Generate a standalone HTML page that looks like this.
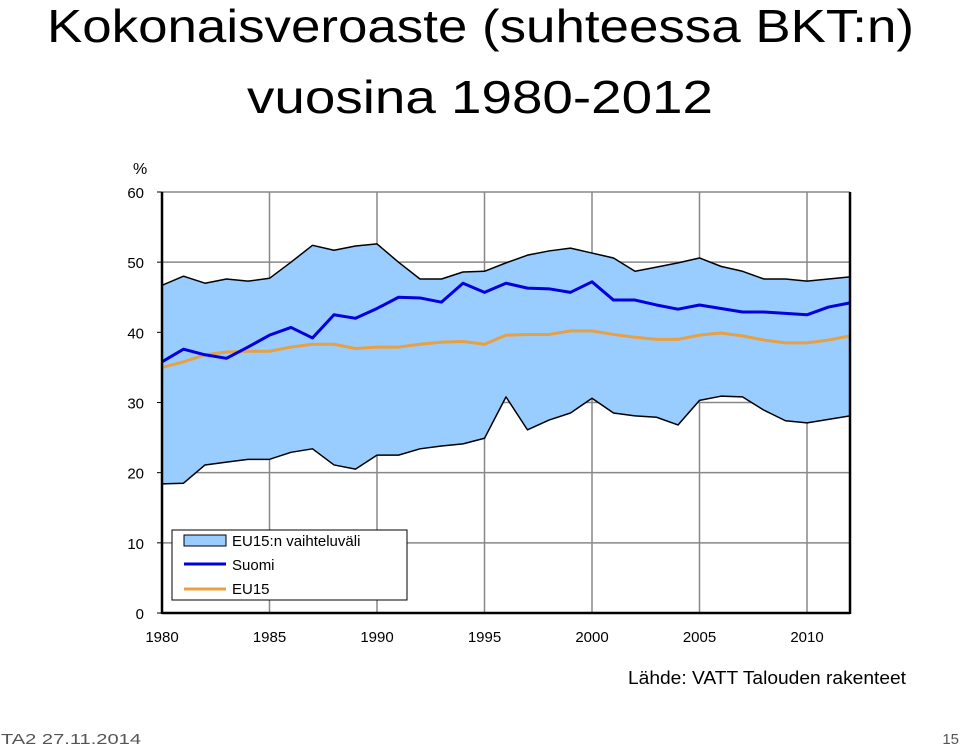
<!DOCTYPE html>
<html><head><meta charset="utf-8"><style>
html,body{margin:0;padding:0;background:#fff;}
svg{display:block;}
text{font-family:"Liberation Sans",sans-serif;}
</style></head><body>
<svg id="chart" width="960" height="745" viewBox="0 0 960 745" xmlns="http://www.w3.org/2000/svg">
<text x="47" y="42" font-size="46" textLength="867" lengthAdjust="spacingAndGlyphs" fill="#000">Kokonaisveroaste (suhteessa BKT:n)</text>
<text x="247" y="113" font-size="46" textLength="466" lengthAdjust="spacingAndGlyphs" fill="#000">vuosina 1980-2012</text>
<text x="133" y="174" font-size="16" fill="#000">%</text>
<g id="grid"></g>
<g id="series"></g>
<g id="axes"></g>
<g>
<rect x="172" y="530" width="235" height="70" fill="#fff" stroke="#000" stroke-width="1"/>
<rect x="184" y="535" width="42" height="11" fill="#99ccff" stroke="#000" stroke-width="1"/>
<text x="232" y="546" font-size="15" fill="#000">EU15:n vaihteluväli</text>
<line x1="184" y1="564" x2="226" y2="564" stroke="#0000dd" stroke-width="3"/>
<text x="232" y="570" font-size="15" fill="#000">Suomi</text>
<line x1="184" y1="589" x2="226" y2="589" stroke="#e8a040" stroke-width="3"/>
<text x="232" y="594" font-size="15" fill="#000">EU15</text>
</g>
<text x="628" y="684" font-size="18" textLength="278" lengthAdjust="spacingAndGlyphs" fill="#000">Lähde: VATT Talouden rakenteet</text>
<text x="1" y="744" font-size="15" textLength="140" lengthAdjust="spacingAndGlyphs" fill="#555">TA2 27.11.2014</text>
<text x="959" y="744" font-size="15" text-anchor="end" fill="#555">15</text>
</svg>
<script>
const years = [1980,1981,1982,1983,1984,1985,1986,1987,1988,1989,1990,1991,1992,1993,1994,1995,1996,1997,1998,1999,2000,2001,2002,2003,2004,2005,2006,2007,2008,2009,2010,2011,2012];
const eu15Max = [46.7,48.0,47.0,47.6,47.3,47.7,50.0,52.4,51.7,52.3,52.6,50.0,47.6,47.6,48.6,48.7,49.9,51.0,51.6,52.0,51.3,50.6,48.7,49.3,49.9,50.6,49.4,48.7,47.6,47.6,47.3,47.6,47.9];
const eu15Min = [18.4,18.5,21.1,21.5,21.9,21.9,22.9,23.4,21.1,20.5,22.5,22.5,23.4,23.8,24.1,24.9,30.8,26.1,27.5,28.5,30.6,28.5,28.1,27.9,26.8,30.3,30.9,30.8,28.9,27.4,27.1,27.6,28.1];
const suomi = [35.8,37.6,36.8,36.3,37.9,39.6,40.7,39.2,42.5,42.0,43.4,45.0,44.9,44.3,47.0,45.7,47.0,46.3,46.2,45.7,47.2,44.6,44.6,43.9,43.3,43.9,43.4,42.9,42.9,42.7,42.5,43.6,44.2];
const eu15 = [35.0,35.8,36.8,37.2,37.3,37.3,37.9,38.3,38.3,37.7,37.9,37.9,38.3,38.6,38.7,38.3,39.6,39.7,39.7,40.2,40.2,39.7,39.3,39.0,39.0,39.6,39.9,39.5,38.9,38.5,38.5,38.9,39.5];
const yTicks = [0,10,20,30,40,50,60];
const xTicks = [1980,1985,1990,1995,2000,2005,2010];

const NS = "http://www.w3.org/2000/svg";
const X0=162, X1=850, Y0=613, Y1=192;
const xs = y => X0 + (y-1980)/(2012-1980)*(X1-X0);
const ys = v => Y0 - v/60*(Y0-Y1);
function mk(tag, attrs, parent){const e=document.createElementNS(NS,tag);for(const k in attrs)e.setAttribute(k,attrs[k]);parent.appendChild(e);return e;}
const grid=document.getElementById('grid'), ser=document.getElementById('series'), axes=document.getElementById('axes');

yTicks.forEach(t=>{
  const l=mk('line',{x1:X0,x2:X1,y1:ys(t),y2:ys(t),stroke:'#888','stroke-width':1.5},grid);
  
  
  const tk=mk('line',{x1:X0-5,x2:X0,y1:ys(t),y2:ys(t),stroke:'#000','stroke-width':1},axes);
  
  
  const tx=mk('text',{x:144,y:ys(t)+6,'font-size':15,'text-anchor':'end',fill:'#000'},axes);
  tx.textContent=t;
  
  
});
xTicks.forEach(t=>{
  if(t>1980){
    const l=mk('line',{x1:xs(t),x2:xs(t),y1:Y1,y2:Y0,stroke:'#888','stroke-width':1.5},grid);
    
    
  }
  const tx=mk('text',{x:xs(t),y:642,'font-size':15,'text-anchor':'middle',fill:'#000'},axes);
  tx.textContent=t;
  
  
});

let d='';
years.forEach((y,i)=>{d+=(i?'L':'M')+xs(y)+','+ys(eu15Max[i]);});
for(let i=years.length-1;i>=0;i--){d+='L'+xs(years[i])+','+ys(eu15Min[i]);}
d+='Z';
const band=mk('path',{d:d,fill:'#99ccff',stroke:'none'},ser);


function line(arr,color,w,name){
  const p=mk('polyline',{points:years.map((y,i)=>xs(y)+','+ys(arr[i])).join(' '),fill:'none',stroke:color,'stroke-width':w,'stroke-linejoin':'round'},ser);
  
  
}
line(eu15Max,'#000',1.5,'eu15-max-line');
line(eu15Min,'#000',1.5,'eu15-min-line');
line(eu15,'#e8a040',3,'eu15-line');
line(suomi,'#0000dd',3,'suomi-line');

const la=mk('line',{x1:X0,x2:X0,y1:Y1,y2:Y0+1,stroke:'#000','stroke-width':2.5},axes);


const ra=mk('line',{x1:X1,x2:X1,y1:Y1,y2:Y0+1,stroke:'#000','stroke-width':2.5},axes);


const ba=mk('line',{x1:X0,x2:X1,y1:Y0,y2:Y0,stroke:'#000','stroke-width':2.5},axes);


</script>
</body></html>
